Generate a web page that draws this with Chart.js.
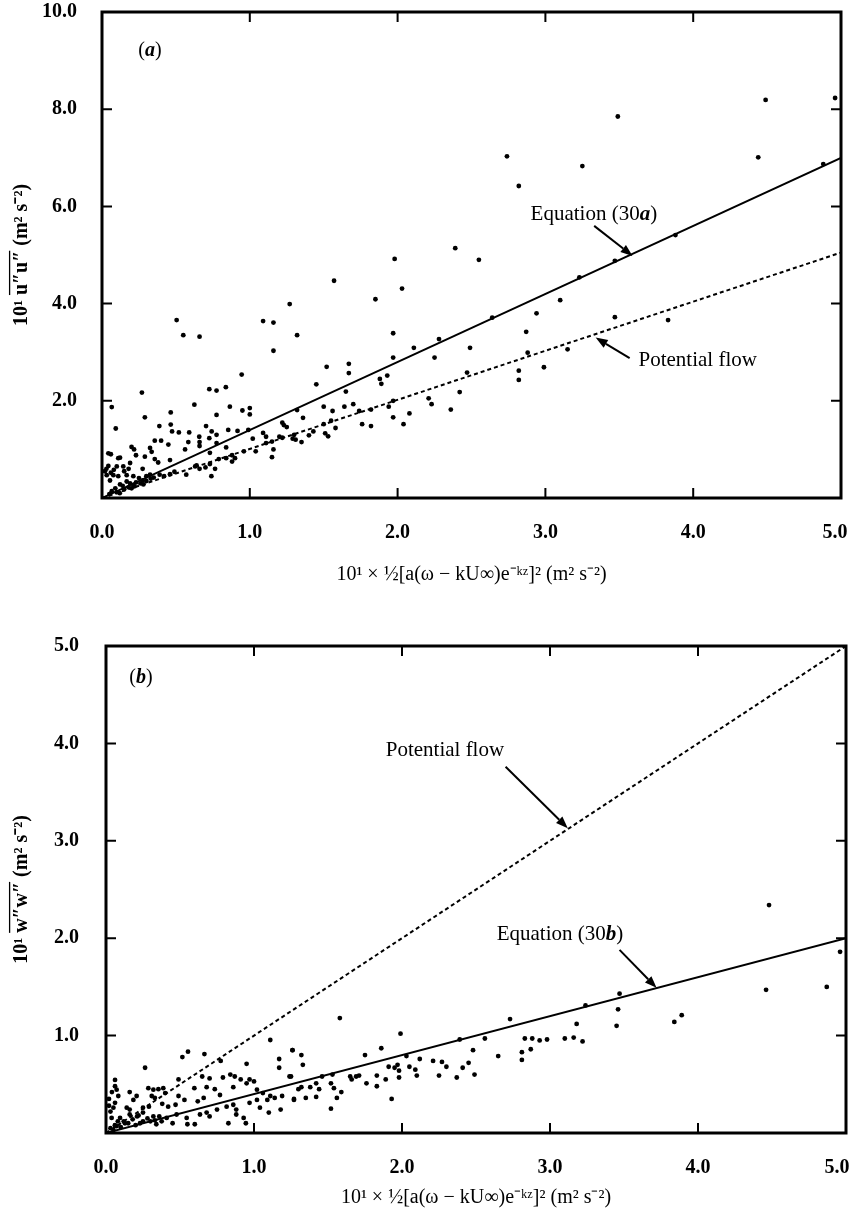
<!DOCTYPE html>
<html>
<head>
<meta charset="utf-8">
<script src="https://cdn.jsdelivr.net/npm/chart.js@4.4.1/dist/chart.umd.min.js"></script>
<style>
  body { margin: 0; background: #fff; }
  #wrap { position: relative; width: 853px; height: 1214px; }
  canvas { position: absolute; left: 0; }
  #chartA { top: 0; }
  #chartB { top: 614px; }
</style>
</head>
<body>
<div id="wrap">
  <canvas id="chartA" width="853" height="600"></canvas>
  <canvas id="chartB" width="853" height="600"></canvas>
</div>
<script>
// ---- panel (a): 10^1 u''u'' against 10^1 x 1/2[a(w-kU)e^-kz]^2 ----
const xA = [
  0.945, 0.27, 0.726, 0.775, 0.838, 0.066, 0.625, 0.865, 0.95, 1.0, 1.0, 0.29, 0.465, 0.775,
  0.093, 0.388, 0.465, 0.704, 0.742, 0.474, 0.52, 0.59, 0.658, 0.726, 0.775, 0.854, 0.917, 0.99,
  0.357, 0.40, 0.449, 0.584, 0.66, 0.66, 0.562, 0.20, 0.217, 0.23, 0.325, 0.336, 0.29, 0.043,
  0.122, 0.19, 0.357, 0.38, 0.46, 0.775, 0.84, 0.73, 0.275, 0.043, 0.10, 0.144, 0.032, 0.077,
  0.11, 0.167, 0.212, 0.054, 0.122, 0.14, 0.19, 0.23, 0.275, 0.30, 0.325, 0.25, 0.167, 0.212,
  0.09, 0.066, 0.39, 0.42, 0.46, 0.49, 0.57, 0.63, 0.64, 0.66, 0.70, 0.74, 0.765, 0.73, 0.79,
  0.84, 0.88, 0.90, 0.88, 0.96, 1.02, 1.04, 1.09, 1.11, 1.11, 1.15, 1.15, 1.16, 1.22, 1.23,
  1.29, 1.30, 1.20,
  0.05, 0.10, 0.15, 0.18, 0.22, 0.26, 0.30, 0.33, 0.12, 0.20, 0.28, 0.35, 0.02, 0.03, 0.06,
  0.08, 0.15, 0.18, 0.06, 0.11,
  0.505, 0.55, 0.66, 1.09, 1.16, 1.16,
  2.39, 1.98, 2.55, 1.57, 2.03, 1.27, 1.85, 1.32, 1.97, 1.97, 2.11, 2.28, 2.25, 2.49, 2.64,
  2.94, 3.10, 2.87, 2.88, 2.82, 2.82, 2.99, 2.47, 2.42, 2.36, 2.21, 2.23, 2.08, 2.04, 1.97,
  1.97, 1.94, 1.93, 1.88, 1.89, 1.82, 1.82, 1.76, 1.74, 1.70, 1.67, 1.67, 1.65, 1.64, 1.52,
  1.45, 1.56, 1.58, 1.53, 1.51, 1.50, 1.50, 1.55, 1.43, 1.40, 1.36, 1.32, 1.25, 1.22, 1.31, 1.35,
  2.74, 2.82, 3.25, 3.49, 4.49, 4.96, 4.44, 4.88, 3.88, 3.83, 3.47, 3.15, 3.47, 3.23
];
const yA = [
  2.54, 2.17, 2.24, 2.21, 2.28, 1.87, 1.92, 1.88, 1.80, 1.85, 1.72, 1.66, 1.76, 1.71,
  1.43, 1.48, 1.51, 1.48, 1.37, 1.37, 1.35, 1.35, 1.26, 1.23, 1.30, 1.40, 1.38, 1.40,
  1.18, 1.18, 1.10, 1.15, 1.15, 1.07, 1.00, 1.05, 1.00, 0.88, 1.03, 0.95, 0.85, 0.92,
  0.83, 0.72, 0.80, 0.73, 0.78, 1.13, 1.04, 0.93, 0.60, 0.66, 0.65, 0.65, 0.47, 0.47,
  0.45, 0.47, 0.45, 0.36, 0.28, 0.25, 0.30, 0.32, 0.36, 0.45, 0.48, 0.41, 0.34, 0.27,
  0.20, 0.14, 0.48, 0.45, 0.49, 0.54, 0.48, 0.65, 0.67, 0.60, 0.63, 0.45, 0.60, 0.70, 0.80,
  0.82, 0.75, 0.82, 0.88, 0.96, 1.22, 0.96, 1.34, 1.26, 1.13, 1.16, 0.84, 1.00, 1.55, 1.50,
  1.22, 1.30, 1.26,
  0.08, 0.12, 0.18, 0.22, 0.24, 0.30, 0.35, 0.40, 0.10, 0.20, 0.28, 0.42, 0.55, 0.60, 0.52,
  0.58, 0.55, 0.60, 0.90, 0.82,
  3.66, 3.35, 3.32, 3.64, 3.61, 3.03,
  5.14, 4.92, 4.90, 4.47, 4.31, 3.99, 4.09, 3.35, 3.39, 2.89, 3.09, 3.27, 2.89, 3.09, 3.71,
  3.80, 4.07, 3.42, 2.99, 2.62, 2.43, 2.69, 2.58, 2.18, 1.82, 2.05, 1.93, 1.74, 1.52, 1.66,
  2.00, 1.88, 2.52, 2.45, 2.35, 1.82, 1.48, 1.52, 1.79, 1.93, 2.76, 2.57, 2.19, 1.88, 2.70,
  2.34, 1.79, 1.44, 1.27, 1.33, 1.88, 1.52, 1.59, 1.37, 1.29, 1.65, 1.81, 1.46, 1.24, 1.20, 1.15,
  7.03, 6.42, 6.83, 7.85, 8.19, 8.23, 7.01, 6.87, 5.41, 3.66, 3.72, 3.06, 4.88, 4.54
];
const eqAx = [0, 5.0];
const eqAy = [0, 7.0];
const potAx = [0, 5.0];
const potAy = [0, 5.05];
const xTicks = [0, 1, 2, 3, 4, 5];
const yTicksA = [2, 4, 6, 8, 10];

// ---- panel (b): 10^1 w''w'' ----
const xB = [
  1.11, 1.26, 0.554, 0.516, 0.665, 0.264, 0.775, 0.95, 1.17, 1.17, 0.49, 0.65, 0.70, 0.79,
  0.84, 0.87, 0.91, 0.97, 1.0, 0.86, 0.95, 0.061, 0.061, 0.072, 0.083, 0.061, 0.16, 0.207,
  0.185, 0.286, 0.32, 0.354, 0.387, 0.309, 0.33, 0.40, 0.597, 0.68, 0.735, 0.77, 0.66, 0.62,
  0.53, 0.49, 0.47, 0.42, 0.38, 0.29, 0.25, 0.16, 0.14, 0.05, 0.038, 0.095, 0.16, 0.21, 0.25,
  0.32, 0.376, 0.41, 0.477, 0.545, 0.55, 0.60, 0.635, 0.68, 0.70, 0.75, 0.815, 0.86, 0.88,
  0.93, 0.945, 0.827, 0.88, 0.97, 1.02, 1.04, 1.09, 1.11, 1.14, 1.19, 1.18, 1.27, 1.10, 1.02,
  1.06, 1.24, 1.30, 0.128, 0.07, 0.23, 0.30, 0.34, 0.45,
  0.03, 0.06, 0.10, 0.12, 0.15, 0.18, 0.20, 0.25, 0.28, 0.33, 0.36, 0.05, 0.08, 0.22,
  0.02, 0.03, 0.04, 0.02,
  1.58, 1.99, 2.73, 3.24, 3.18, 1.26, 1.32, 1.33, 1.25, 1.75, 1.86, 2.03, 2.12, 2.39, 2.48,
  2.56, 2.65, 2.81, 2.81, 2.83, 2.88, 2.87, 2.93, 2.98, 3.10, 3.16, 3.22, 1.91, 1.95, 1.97,
  1.98, 1.98, 2.05, 2.09, 2.10, 2.21, 2.27, 2.30, 2.25, 2.37, 2.41, 2.45, 2.49, 1.93, 1.83,
  1.83, 1.89, 1.76, 1.65, 1.66, 1.69, 1.71, 1.53, 1.52, 1.54, 1.59, 1.56, 1.52, 1.46, 1.42,
  1.44, 1.38, 1.32, 1.35, 1.42, 1.27,
  4.48, 4.96, 4.87, 4.46, 3.89, 3.84, 3.47, 3.46, 3.45
];
const yB = [
  0.955, 0.85, 0.835, 0.78, 0.81, 0.67, 0.74, 0.71, 0.76, 0.67, 0.55, 0.58, 0.56, 0.57,
  0.60, 0.58, 0.55, 0.55, 0.53, 0.47, 0.51, 0.545, 0.48, 0.445, 0.38, 0.31, 0.42, 0.38,
  0.34, 0.46, 0.445, 0.45, 0.46, 0.38, 0.36, 0.41, 0.46, 0.47, 0.45, 0.39, 0.36, 0.325,
  0.34, 0.38, 0.29, 0.27, 0.30, 0.27, 0.26, 0.24, 0.26, 0.26, 0.155, 0.155, 0.19, 0.17, 0.21,
  0.17, 0.12, 0.155, 0.19, 0.155, 0.09, 0.09, 0.19, 0.21, 0.17, 0.24, 0.27, 0.29, 0.24,
  0.155, 0.10, 0.10, 0.19, 0.31, 0.34, 0.26, 0.34, 0.38, 0.36, 0.38, 0.24, 0.34, 0.21, 0.445,
  0.41, 0.58, 0.45, 0.10, 0.07, 0.10, 0.12, 0.09, 0.10,
  0.05, 0.08, 0.06, 0.12, 0.10, 0.14, 0.08, 0.12, 0.15, 0.13, 0.17, 0.03, 0.12, 0.18,
  0.28, 0.22, 0.42, 0.35,
  1.18, 1.02, 1.17, 1.31, 1.12, 0.85, 0.80, 0.70, 0.58, 0.80, 0.87, 0.79, 0.76, 0.96, 0.85,
  0.97, 0.79, 0.83, 0.75, 0.97, 0.97, 0.86, 0.95, 0.96, 0.97, 0.98, 0.94, 0.68, 0.67, 0.70,
  0.64, 0.57, 0.68, 0.65, 0.59, 0.74, 0.73, 0.68, 0.59, 0.57, 0.67, 0.72, 0.60, 0.35, 0.59,
  0.48, 0.55, 0.51, 0.58, 0.55, 0.58, 0.59, 0.60, 0.51, 0.46, 0.42, 0.36, 0.25, 0.58, 0.51,
  0.45, 0.47, 0.47, 0.36, 0.37, 0.35,
  2.34, 1.86, 1.50, 1.47, 1.21, 1.14, 1.43, 1.27, 1.10
];
const eqBx = [0, 5.0];
const eqBy = [0, 2.0];
const potBx = [0, 5.0];
const potBy = [0, 5.0];
const yTicksB = [1, 2, 3, 4, 5];

const SERIF = '"Liberation Serif", "Times New Roman", serif';
const TITLE_SIZE = 20;

const pts = (xs, ys) => xs.map((v, i) => ({ x: v, y: ys[i] }));

// frame with inward ticks on all four sides
const framePlugin = {
  id: 'frame',
  beforeDraw(chart) {
    // pull the last x label ("5.0") back inside the page like the print does
    const items = chart.scales.x.getLabelItems();
    const last = items[items.length - 1];
    if (last && !last._moved) {
      last.options.translation[0] -= chart.options.plugins.frame.lastShift;
      last._moved = true;
    }
  },
  afterDraw(chart) {
    const { ctx, chartArea: a, scales: { x, y } } = chart;
    ctx.save();
    ctx.strokeStyle = '#000';
    ctx.lineWidth = 2;
    ctx.beginPath();
    x.ticks.forEach(t => {
      const px = x.getPixelForValue(t.value);
      if (px <= a.left + 2 || px >= a.right - 2) return;
      ctx.moveTo(px, a.bottom); ctx.lineTo(px, a.bottom - 10);
      ctx.moveTo(px, a.top); ctx.lineTo(px, a.top + 10);
    });
    y.ticks.forEach(t => {
      const py = y.getPixelForValue(t.value);
      if (py <= a.top + 2 || py >= a.bottom - 2) return;
      ctx.moveTo(a.left, py); ctx.lineTo(a.left + 10, py);
      ctx.moveTo(a.right, py); ctx.lineTo(a.right - 10, py);
    });
    ctx.stroke();
    ctx.lineWidth = 3;
    ctx.strokeRect(a.left, a.top, a.right - a.left, a.bottom - a.top);

    // overline over the u''u'' / w''w'' part of the y title
    const tt = y.options.title;
    const over = chart.options.plugins.frame.over;
    ctx.font = 'bold ' + TITLE_SIZE + 'px ' + SERIF;
    const W = ctx.measureText(tt.text).width;
    const pre = ctx.measureText(tt.text.split(over)[0]).width;
    const seg = ctx.measureText(over).width;
    const cx = y.left + tt.padding.top + TITLE_SIZE * 1.2 / 2;
    const cy = (y.top + y.bottom) / 2;
    ctx.translate(cx, cy);
    ctx.rotate(-Math.PI / 2);
    ctx.lineWidth = 1.3;
    ctx.beginPath();
    ctx.moveTo(-W / 2 + pre, -TITLE_SIZE * 0.62);
    ctx.lineTo(-W / 2 + pre + seg, -TITLE_SIZE * 0.62);
    ctx.stroke();
    ctx.restore();
  }
};

// labels and arrows inside the plot
const notesPlugin = {
  id: 'notes',
  afterDraw(chart) {
    const { ctx, scales: { x, y } } = chart;
    const notes = chart.options.plugins.notes.items;
    ctx.save();
    ctx.fillStyle = '#000';
    ctx.strokeStyle = '#000';
    ctx.textBaseline = 'alphabetic';
    notes.forEach(n => {
      let px = x.getPixelForValue(n.x);
      const py = y.getPixelForValue(n.y);
      if (n.center) {
        let w = 0;
        n.parts.forEach(p => { ctx.font = p.f + ' ' + n.size + 'px ' + SERIF; w += ctx.measureText(p.t).width; });
        px -= w / 2;
      }
      n.parts.forEach(p => {
        ctx.font = p.f + ' ' + n.size + 'px ' + SERIF;
        ctx.fillText(p.t, px, py);
        px += ctx.measureText(p.t).width;
      });
      if (n.arrow) {
        const [x1, y1, x2, y2] = n.arrow;
        const ax = x.getPixelForValue(x1), ay = y.getPixelForValue(y1);
        const bx = x.getPixelForValue(x2), by = y.getPixelForValue(y2);
        const ang = Math.atan2(by - ay, bx - ax);
        const hl = 12, hw = 4.5;
        ctx.lineWidth = 2;
        ctx.beginPath();
        ctx.moveTo(ax, ay);
        ctx.lineTo(bx - hl * Math.cos(ang), by - hl * Math.sin(ang));
        ctx.stroke();
        ctx.beginPath();
        ctx.moveTo(bx, by);
        ctx.lineTo(bx - hl * Math.cos(ang) + hw * Math.sin(ang), by - hl * Math.sin(ang) - hw * Math.cos(ang));
        ctx.lineTo(bx - hl * Math.cos(ang) - hw * Math.sin(ang), by - hl * Math.sin(ang) + hw * Math.cos(ang));
        ctx.closePath();
        ctx.fill();
      }
    });
    ctx.restore();
  }
};

// keep the plot box where the figure has it: no extra room for edge labels
const noEdgePad = s => { s.paddingTop = 0; s.paddingBottom = 0; s.paddingLeft = 0; s.paddingRight = 0; };

function makeChart(id, o) {
  return new Chart(document.getElementById(id), {
    type: 'scatter',
    data: {
      datasets: [
        { label: 'data', data: o.points, backgroundColor: '#000', borderWidth: 0, pointRadius: 2.4 },
        { label: o.eqLabel, data: o.eq, showLine: true, borderColor: '#000', borderWidth: 2, pointRadius: 0 },
        { label: 'Potential flow', data: o.pot, showLine: true, borderColor: '#000', borderWidth: 2, borderDash: [4, 3], pointRadius: 0 }
      ]
    },
    options: {
      responsive: false,
      animation: false,
      devicePixelRatio: 1,
      layout: { padding: o.pad },
      plugins: {
        legend: { display: false },
        tooltip: { enabled: false },
        frame: { over: o.over, lastShift: o.lastShift },
        notes: { items: o.notes }
      },
      scales: {
        x: {
          type: 'linear', min: 0, max: 5,
          grid: { display: false }, border: { display: false },
          afterBuildTicks: s => { s.ticks = xTicks.map(v => ({ value: v })); },
          afterFit: s => { s.height = o.xH; noEdgePad(s); },
          ticks: {
            color: '#000', padding: 15, maxRotation: 0,
            font: { family: SERIF, size: 20, weight: 'bold' },
            callback: v => v.toFixed(1)
          },
          title: {
            display: true, text: '10¹ × ½[a(ω − kU∞)e⁻ᵏᶻ]² (m² s⁻²)', color: '#000',
            font: { family: SERIF, size: TITLE_SIZE }, padding: { top: 0, bottom: o.xTitlePad }
          }
        },
        y: {
          type: 'linear', min: 0, max: o.yMax,
          grid: { display: false }, border: { display: false },
          afterBuildTicks: s => { s.ticks = o.yTicks.map(v => ({ value: v })); },
          afterFit: s => { s.width = o.yW; noEdgePad(s); },
          ticks: {
            color: '#000', padding: o.yTickPad,
            font: { family: SERIF, size: 20, weight: 'bold' },
            callback: v => v.toFixed(1)
          },
          title: {
            display: true, text: o.yTitle, color: '#000',
            font: { family: SERIF, size: TITLE_SIZE, weight: 'bold' }, padding: { top: 10, bottom: 0 }
          }
        }
      }
    },
    plugins: [framePlugin, notesPlugin]
  });
}

makeChart('chartA', {
  points: pts(xA, yA), eq: pts(eqAx, eqAy), pot: pts(potAx, potAy),
  eqLabel: 'Equation (30a)', yMax: 10, yTicks: yTicksA,
  pad: { left: 0, top: 12, right: 12, bottom: 0 }, xH: 102, yW: 102,
  yTickPad: 17, xTitlePad: 13, lastShift: 6,
  yTitle: '10¹ u″u″ (m² s⁻²)', over: 'u″u″',
  notes: [
    { x: 0.325, y: 9.1, size: 20, center: true, parts: [{ t: '(', f: 'normal' }, { t: 'a', f: 'italic bold' }, { t: ')', f: 'normal' }] },
    { x: 2.90, y: 5.72, size: 21, parts: [{ t: 'Equation (30', f: 'normal' }, { t: 'a', f: 'italic bold' }, { t: ')', f: 'normal' }],
      arrow: [3.33, 5.60, 3.59, 4.98] },
    { x: 3.63, y: 2.72, size: 21, parts: [{ t: 'Potential flow', f: 'normal' }],
      arrow: [3.57, 2.88, 3.34, 3.30] }
  ]
});

makeChart('chartB', {
  points: pts(xB, yB), eq: pts(eqBx, eqBy), pot: pts(potBx, potBy),
  eqLabel: 'Equation (30b)', yMax: 5, yTicks: yTicksB,
  pad: { left: 0, top: 32, right: 7, bottom: 0 }, xH: 81, yW: 106,
  yTickPad: 19, xTitlePad: 4, lastShift: 9,
  yTitle: '10¹ w″w″ (m² s⁻²)', over: 'w″w″',
  notes: [
    { x: 0.236, y: 4.62, size: 20, center: true, parts: [{ t: '(', f: 'normal' }, { t: 'b', f: 'italic bold' }, { t: ')', f: 'normal' }] },
    { x: 1.89, y: 3.87, size: 21, parts: [{ t: 'Potential flow', f: 'normal' }],
      arrow: [2.70, 3.76, 3.12, 3.13] },
    { x: 2.64, y: 1.98, size: 21, parts: [{ t: 'Equation (30', f: 'normal' }, { t: 'b', f: 'italic bold' }, { t: ')', f: 'normal' }],
      arrow: [3.47, 1.88, 3.72, 1.49] }
  ]
});
</script>
</body>
</html>
